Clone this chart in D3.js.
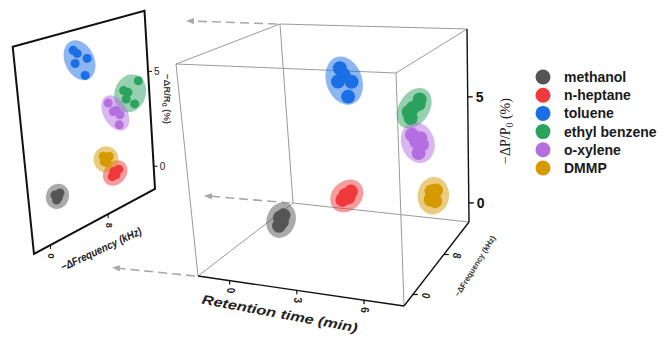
<!DOCTYPE html>
<html>
<head>
<meta charset="utf-8">
<script src="https://cdn.jsdelivr.net/npm/d3@7"></script>
<style>
  body { margin: 0; background: #fff; }
  svg { display: block; }
  text { font-family: "Liberation Sans", Arial, sans-serif; }
</style>
</head>
<body>
<svg id="chart" width="664" height="337"></svg>
<script>
// ---- data: replicate measurements per analyte ----
const analytes = ["methanol", "n-heptane", "toluene", "ethyl benzene", "o-xylene", "DMMP"];
const colors   = ["#555555", "#f0393c", "#1a6ee6", "#2ca25f", "#b46ee0", "#d49a00"];

// GC retention time (min)
const retentionTime = [
  [1.64, 1.64, 1.53, 1.61],
  [2.80, 2.91, 2.71, 2.88],
  [3.82, 3.87, 3.93, 3.68, 3.84],
  [5.69, 5.58, 5.66, 5.61, 5.79],
  [6.17, 6.37, 6.34, 6.20, 6.24],
  [7.29, 7.34, 7.21, 7.35]
];
// −ΔFrequency (kHz)
const frequencyShift = [
  [1.20, 1.88, 1.36, 1.63],
  [9.17, 9.85, 8.91, 9.43],
  [5.19, 5.66, 6.87, 5.30, 6.44],
  [13.18, 11.20, 11.74, 11.47, 12.50],
  [9.11, 10.03, 10.51, 10.33, 9.68],
  [7.92, 8.73, 8.02, 8.41]
];
// −ΔP/P0 (%)
const powerResponse = [
  [1.35, 1.33, 0.96, 1.09],
  [1.02, 1.05, 0.83, 0.86],
  [7.41, 7.06, 6.61, 6.81, 6.00],
  [4.98, 4.70, 4.81, 4.38, 4.88],
  [4.04, 3.75, 3.37, 3.01, 3.64],
  [1.83, 1.72, 1.43, 1.31]
];
// −ΔR/R0 (%)
const resistanceResponse = [
  [0.92, 0.91, 0.66, 0.75],
  [0.71, 0.71, 0.50, 0.50],
  [7.25, 7.04, 6.66, 6.60, 5.88],
  [4.70, 4.48, 4.31, 4.01, 3.60],
  [4.15, 3.64, 3.35, 2.87, 3.64],
  [1.68, 1.55, 1.39, 1.28]
];

const retentionTicks = [0, 3, 6];
const frequencyTicks = [0, 8];
const responseTicks  = [0, 5];

// ---- scales: data -> unit cube ----
const rtScale   = d3.scaleLinear().domain([-1.4, 7.8]).range([0, 1]);
const freqScale = d3.scaleLinear().domain([-2.3, 14.5]).range([0, 1]);
const dpScale   = d3.scaleLinear().domain([-0.9, 8.2]).range([0, 1]);
const drScale   = d3.scaleLinear().domain([-1.2, 8.2]).range([0, 1]);

// ---- perspective frames ----
// screen positions of the box corners (f/b = front/back, b/t = bottom/top, l/r = left/right)
const box = {
  fbl: [198, 276], fbr: [404, 306], bbl: [293, 203], bbr: [469, 222],
  ftl: [176, 64],  ftr: [396, 73],  btl: [280, 24],  btr: [467, 29]
};
// the projected side panel (frequency x resistance plane)
const panel = { bl: [34, 254], br: [155, 189], tl: [12.7, 46.7], tr: [144.5, 10.7] };

const lerp = (a, b, t) => [a[0] + (b[0] - a[0]) * t, a[1] + (b[1] - a[1]) * t];
function project(u, v, w) {
  const b = lerp(lerp(box.fbl, box.fbr, u), lerp(box.bbl, box.bbr, u), v);
  const t = lerp(lerp(box.ftl, box.ftr, u), lerp(box.btl, box.btr, u), v);
  return lerp(b, t, w);
}
function projectPanel(v, w) {
  return lerp(lerp(panel.bl, panel.br, v), lerp(panel.tl, panel.tr, v), w);
}

// confidence-style ellipse around a set of projected points
function spreadEllipse(pts, k, pad) {
  const mx = d3.mean(pts, p => p[0]), my = d3.mean(pts, p => p[1]);
  const sxx = d3.mean(pts, p => (p[0] - mx) ** 2);
  const syy = d3.mean(pts, p => (p[1] - my) ** 2);
  const sxy = d3.mean(pts, p => (p[0] - mx) * (p[1] - my));
  const half = (sxx + syy) / 2, diff = Math.sqrt(((sxx - syy) / 2) ** 2 + sxy ** 2);
  const l1 = half + diff, l2 = Math.max(half - diff, 0);
  const angle = 0.5 * Math.atan2(2 * sxy, sxx - syy) * 180 / Math.PI;
  return { cx: mx, cy: my, rx: k * Math.sqrt(l1) + pad, ry: k * Math.sqrt(l2) + pad, angle };
}

const svg = d3.select("#chart");
const defs = svg.append("defs");
defs.append("marker")
  .attr("id", "arrow").attr("viewBox", "0 0 10 10")
  .attr("refX", 5).attr("refY", 5)
  .attr("markerUnits", "userSpaceOnUse")
  .attr("markerWidth", 8).attr("markerHeight", 8)
  .attr("orient", "auto")
  .append("path").attr("d", "M0,1 L10,5 L0,9 Z").attr("fill", "#a8a8a8");

// ---- projection arrows from the box's left face ----
const arrowStarts = [[0, 1, 1, -90, -3], [0, 1, 0, -85, -7], [0, 0, 0, -82, -8]];
svg.append("g").selectAll("line").data(arrowStarts).join("line")
  .each(function (d) {
    const s = project(d[0], d[1], d[2]);
    d3.select(this)
      .attr("x1", s[0] - 3).attr("y1", s[1])
      .attr("x2", s[0] + d[3]).attr("y2", s[1] + d[4]);
  })
  .attr("stroke", "#a8a8a8").attr("stroke-width", 1.6)
  .attr("stroke-dasharray", "9,5")
  .attr("marker-end", "url(#arrow)");

// ---- box edges ----
const corners = [0, 1];
const edges = [];
corners.forEach(a => corners.forEach(b => {
  edges.push({ p: [[0, a, b], [1, a, b]], axis: a === 0 && b === 0 });
  edges.push({ p: [[a, 0, b], [a, 1, b]], axis: a === 1 && b === 0 });
  edges.push({ p: [[a, b, 0], [a, b, 1]], axis: a === 1 && b === 1 });
}));
const gBox = svg.append("g");
gBox.selectAll("line").data(edges.sort((a, b) => a.axis - b.axis)).join("line")
  .each(function (d) {
    const s = project(...d.p[0]), e = project(...d.p[1]);
    d3.select(this).attr("x1", s[0]).attr("y1", s[1]).attr("x2", e[0]).attr("y2", e[1]);
  })
  .attr("stroke", d => d.axis ? "#111" : "#9a9a9a")
  .attr("stroke-width", d => d.axis ? 1.4 : 1);

// retention time axis (front bottom edge)
const gRt = svg.append("g");
retentionTicks.forEach(t => {
  const p = project(rtScale(t), 0, 0);
  gRt.append("line").attr("x1", p[0]).attr("y1", p[1]).attr("x2", p[0] + 0.5).attr("y2", p[1] + 4)
    .attr("stroke", "#111").attr("stroke-width", 1.2);
  gRt.append("text").attr("transform", `translate(${p[0] + 1},${p[1] + 10}) rotate(90)`)
    .attr("text-anchor", "middle").attr("dy", "0.35em")
    .attr("font-size", 10).attr("font-weight", "bold").attr("fill", "#222").text(t);
});
gRt.append("text").attr("transform", "translate(279,318) rotate(10.5)")
  .attr("text-anchor", "middle").attr("font-size", 13).attr("font-weight", "bold")
  .attr("font-style", "italic").attr("fill", "#222")
  .attr("textLength", 158).attr("lengthAdjust", "spacingAndGlyphs")
  .text("Retention time (min)");

// frequency axis (right bottom edge)
const gFq = svg.append("g");
frequencyTicks.forEach(t => {
  const p = project(1, freqScale(t), 0);
  gFq.append("line").attr("x1", p[0]).attr("y1", p[1]).attr("x2", p[0] + 5).attr("y2", p[1])
    .attr("stroke", "#111").attr("stroke-width", 1.2);
  gFq.append("text").attr("transform", `translate(${p[0] + 13},${p[1] + 1}) rotate(90)`)
    .attr("text-anchor", "middle").attr("dy", "0.35em")
    .attr("font-size", 10).attr("font-weight", "bold").attr("font-style", "italic")
    .attr("fill", "#222").text(t);
});
gFq.append("text").attr("transform", "translate(475,266) rotate(-58)")
  .attr("text-anchor", "middle").attr("dy", "0.35em")
  .attr("font-size", 8).attr("font-weight", "bold").attr("fill", "#333")
  .attr("textLength", 70).attr("lengthAdjust", "spacingAndGlyphs")
  .text("−ΔFrequency (kHz)");

// response axis (back right vertical edge)
const gDp = svg.append("g");
responseTicks.forEach(t => {
  const p = project(1, 1, dpScale(t));
  gDp.append("line").attr("x1", p[0]).attr("y1", p[1]).attr("x2", p[0] + 5).attr("y2", p[1])
    .attr("stroke", "#111").attr("stroke-width", 1.4);
  gDp.append("text").attr("x", p[0] + 8).attr("y", p[1]).attr("dy", "0.36em")
    .attr("font-size", 14).attr("font-weight", "bold").attr("fill", "#111").text(t);
});
const dpTitle = gDp.append("text").attr("transform", "translate(505,131) rotate(-90)")
  .attr("text-anchor", "middle").attr("dy", "0.35em")
  .attr("font-size", 14).attr("fill", "#222")
  .style("font-family", '"Liberation Serif", "Times New Roman", serif');
dpTitle.append("tspan").text("−ΔP/P");
dpTitle.append("tspan").attr("dy", 3).attr("font-size", 10).text("0");
dpTitle.append("tspan").attr("dy", -3).text(" (%)");

// ---- side panel: frequency vs resistance response ----
const gPanel = svg.append("g");
gPanel.append("path")
  .attr("d", d3.line()([panel.tl, panel.tr, panel.br, panel.bl]) + "Z")
  .attr("fill", "#fff").attr("stroke", "#111").attr("stroke-width", 2);
frequencyTicks.forEach(t => {
  const p = projectPanel(freqScale(t), 0);
  gPanel.append("line").attr("x1", p[0]).attr("y1", p[1]).attr("x2", p[0]).attr("y2", p[1] + 4)
    .attr("stroke", "#111").attr("stroke-width", 1);
  gPanel.append("text").attr("transform", `translate(${p[0] + 0.5},${p[1] + 11}) rotate(90)`)
    .attr("text-anchor", "middle").attr("dy", "0.35em")
    .attr("font-size", 9).attr("font-weight", "bold").attr("fill", "#222").text(t);
});
responseTicks.forEach(t => {
  const p = projectPanel(1, drScale(t));
  gPanel.append("line").attr("x1", p[0]).attr("y1", p[1]).attr("x2", p[0] + 4).attr("y2", p[1])
    .attr("stroke", "#111").attr("stroke-width", 1);
  gPanel.append("text").attr("x", p[0] + 6).attr("y", p[1]).attr("dy", "0.36em")
    .attr("font-size", 10).attr("fill", "#222").text(t);
});
const drTitle = gPanel.append("text").attr("transform", "translate(167,99) rotate(90)")
  .attr("text-anchor", "middle").attr("dy", "0.35em")
  .attr("font-size", 9.5).attr("font-weight", "bold").attr("fill", "#444");
drTitle.append("tspan").text("−ΔR/R");
drTitle.append("tspan").attr("dy", 2).attr("font-size", 7).text("0");
drTitle.append("tspan").attr("dy", -2).text(" (%)");
gPanel.append("text").attr("transform", "translate(101,249) rotate(-25)")
  .attr("text-anchor", "middle").attr("dy", "0.35em")
  .attr("font-size", 11).attr("font-weight", "bold").attr("font-style", "italic").attr("fill", "#222")
  .attr("textLength", 88).attr("lengthAdjust", "spacingAndGlyphs")
  .text("−ΔFrequency (kHz)");

// ---- clusters ----
function drawClusters(g, pointsOf, k, dotR, pad) {
  const sets = analytes.map((name, i) => ({ i, pts: pointsOf(i) }));
  g.append("g").selectAll("ellipse").data(sets).join("ellipse")
    .each(function (d) {
      const e = spreadEllipse(d.pts, k, dotR + pad);
      d3.select(this).attr("cx", e.cx).attr("cy", e.cy).attr("rx", e.rx).attr("ry", e.ry)
        .attr("transform", `rotate(${e.angle},${e.cx},${e.cy})`);
    })
    .attr("fill", d => colors[d.i]).attr("fill-opacity", 0.5);
  g.append("g").selectAll("g").data(sets).join("g")
    .attr("fill", d => colors[d.i])
    .selectAll("circle").data(d => d.pts).join("circle")
    .attr("cx", p => p[0]).attr("cy", p => p[1]).attr("r", dotR);
}

drawClusters(gPanel, i => frequencyShift[i].map((f, j) =>
  projectPanel(freqScale(f), drScale(resistanceResponse[i][j]))), 1.2, 4.5, 5);

drawClusters(svg.append("g"), i => retentionTime[i].map((t, j) =>
  project(rtScale(t), freqScale(frequencyShift[i][j]), dpScale(powerResponse[i][j]))), 1.2, 7, 6);

// ---- legend ----
const legend = svg.append("g").attr("transform", "translate(543,77)");
const item = legend.selectAll("g").data(analytes).join("g")
  .attr("transform", (d, i) => `translate(0,${i * 18.2})`);
item.append("circle").attr("r", 7.5).attr("fill", (d, i) => colors[i]);
item.append("text").attr("x", 21).attr("dy", "0.36em")
  .attr("font-size", 14).attr("font-weight", "bold").attr("fill", "#1a1a1a").text(d => d);
</script>
</body>
</html>
